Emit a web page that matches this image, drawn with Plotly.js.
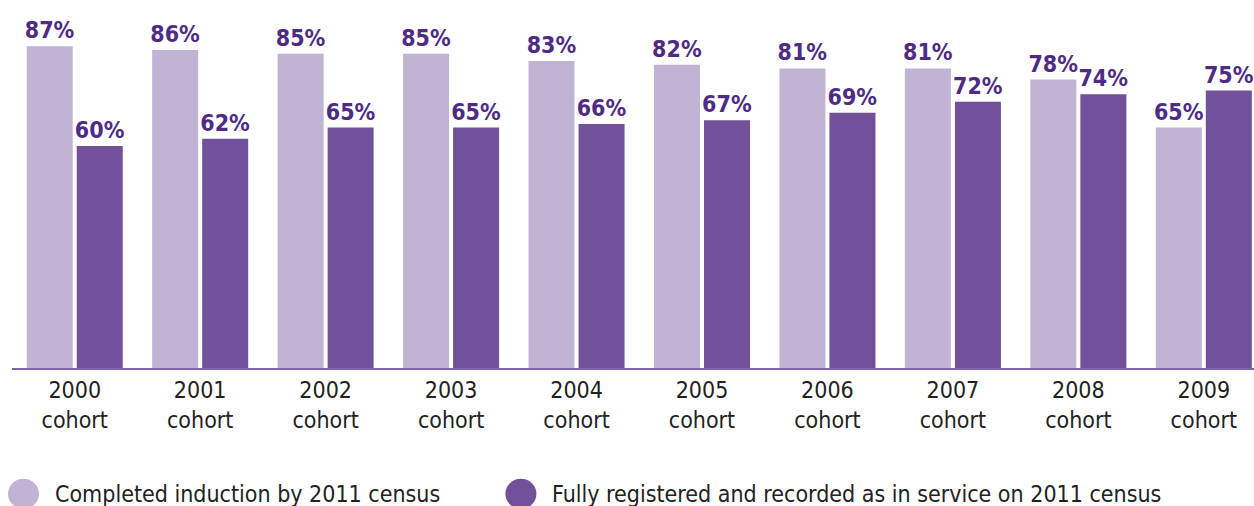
<!DOCTYPE html>
<html>
<head>
<meta charset="utf-8">
<script src="https://cdn.plot.ly/plotly-3.0.1.min.js"></script>
<style>html,body{margin:0;padding:0;background:#fff;}#chart{width:1254px;height:506px;}</style>
</head>
<body>
<div id="chart"></div>
<script>
const categories = ["2000<br>cohort","2001<br>cohort","2002<br>cohort","2003<br>cohort","2004<br>cohort","2005<br>cohort","2006<br>cohort","2007<br>cohort","2008<br>cohort","2009<br>cohort"];
const seriesNames = ["Completed induction by 2011 census","Fully registered and recorded as in service on 2011 census"];
const completedInduction = [87, 86, 85, 85, 83, 82, 81, 81, 78, 65];
const fullyRegistered = [60, 62, 65, 65, 66, 67, 69, 72, 74, 75];
const colors = ["#c1b3d4", "#715199"];

const FONT = '"Liberation Sans Narrow", "DejaVu Sans Condensed", sans-serif';
const labelColor = "#4e2b85";

function barTrace(name, values, color) {
  return {
    type: "bar",
    name: name,
    x: categories,
    y: values,
    marker: {color: color},
    texttemplate: "<b>%{y}%</b>",
    textposition: "outside",
    constraintext: "none",
    cliponaxis: false,
    textfont: {family: FONT, size: 23, color: labelColor, weight: "bold"},
    showlegend: false,
    hoverinfo: "skip"
  };
}

const data = [
  barTrace(seriesNames[0], completedInduction, colors[0]),
  barTrace(seriesNames[1], fullyRegistered, colors[1])
];

// legend built as shapes + annotations (circle markers)
const legendX = [0.0, 0.4005];
const shapes = [];
const annotations = [];
seriesNames.forEach((n, i) => {
  shapes.push({
    type: "circle", xref: "paper", yref: "paper",
    xsizemode: "pixel", ysizemode: "pixel",
    xanchor: legendX[i], yanchor: -0.342,
    x0: -4, x1: 27, y0: -15, y1: 15,
    fillcolor: colors[i], line: {width: 0}
  });
  annotations.push({
    xref: "paper", yref: "paper",
    x: legendX[i], y: -0.342, xshift: 41,
    xanchor: "left", yanchor: "middle",
    text: n, showarrow: false,
    font: {family: FONT, size: 23, color: "#222"}
  });
});

const layout = {
  width: 1254, height: 506,
  margin: {l: 12, r: 0, t: 0, b: 138},
  paper_bgcolor: "#fff", plot_bgcolor: "#fff",
  bargap: 0.2026, bargroupgap: 0.08,
  barmode: "group",
  font: {family: FONT, size: 23, color: "#222"},
  xaxis: {
    range: [-0.5, 9.4],
    showline: true, linecolor: "#7d64a6", linewidth: 2,
    ticks: "", showgrid: false, zeroline: false,
    tickfont: {family: FONT, size: 23, color: "#222"},
    fixedrange: true
  },
  yaxis: {range: [0, 99.5], visible: false, fixedrange: true},
  shapes: shapes,
  annotations: annotations,
  showlegend: false
};

Plotly.newPlot("chart", data, layout, {displayModeBar: false, staticPlot: true});
</script>
</body>
</html>
